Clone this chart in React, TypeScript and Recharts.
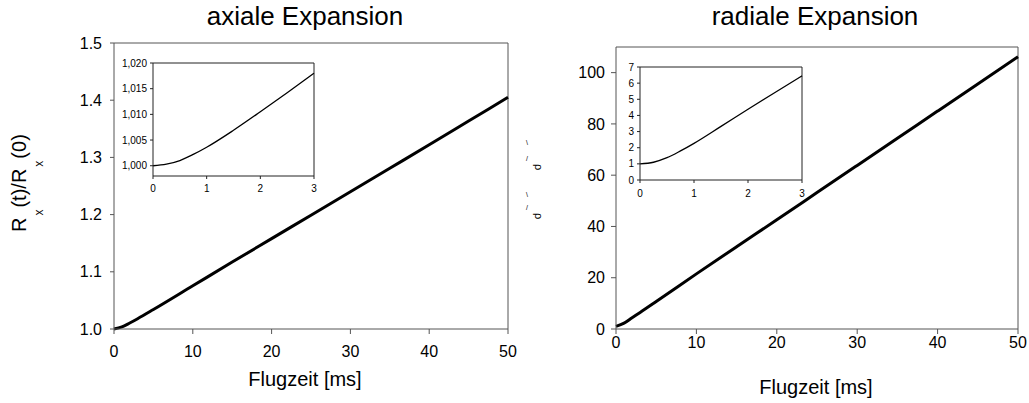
import React from 'react';
import { LineChart, Line, XAxis, YAxis, ReferenceLine } from 'recharts';

// ---- data ----
const axialTime = [0, 1, 2, 3, 5, 10, 15, 20, 25, 30, 35, 40, 45, 50];
const axialRatio = [1.0, 1.0036, 1.0105, 1.018, 1.034, 1.0755, 1.117, 1.158, 1.199, 1.24, 1.281, 1.322, 1.3635, 1.405];

const axialInsetTime = [0, 0.25, 0.5, 0.75, 1, 1.5, 2, 2.5, 3];
const axialInsetRatio = [1.0, 1.0003, 1.001, 1.0022, 1.0036, 1.0069, 1.0105, 1.0142, 1.018];

const radialTime = [0, 1, 2, 3, 5, 10, 15, 20, 25, 30, 35, 40, 45, 50];
const radialRatio = [1, 2.27, 4.38, 6.45, 10.7, 21.5, 32.1, 42.6, 53.2, 63.8, 74.4, 85.0, 95.6, 106.2];

const radialInsetTime = [0, 0.25, 0.5, 0.75, 1, 1.5, 2, 2.5, 3];
const radialInsetRatio = [1.0, 1.1, 1.38, 1.8, 2.27, 3.32, 4.38, 5.42, 6.45];

const mainXTicks = [0, 10, 20, 30, 40, 50];
const axialYTicks = [1.0, 1.1, 1.2, 1.3, 1.4, 1.5];
const radialYTicks = [0, 20, 40, 60, 80, 100];
const insetXTicks = [0, 1, 2, 3];
const axialInsetYTicks = [1.0, 1.005, 1.01, 1.015, 1.02];
const radialInsetYTicks = [0, 1, 2, 3, 4, 5, 6, 7];

const titles = ['axiale Expansion', 'radiale Expansion'];
const xLabel = 'Flugzeit [ms]';

const zip = (xs: number[], ys: number[]) => xs.map((t, i) => ({ t, v: ys[i] }));

const FONT = '"Liberation Sans", Arial, sans-serif';
const AXIS = '#555';

const mainTick = { fill: '#000', fontSize: 16, fontFamily: FONT };
const insetTick = { fill: '#000', fontSize: 10, fontFamily: FONT };

export default function App() {
  const axialData = zip(axialTime, axialRatio);
  const axialInset = zip(axialInsetTime, axialInsetRatio);
  const radialData = zip(radialTime, radialRatio);
  const radialInset = zip(radialInsetTime, radialInsetRatio);

  return (
    <div style={{ position: 'absolute', left: 0, top: 0, width: 1029, height: 403, background: '#fff', fontFamily: FONT, overflow: 'hidden' }}>
      {/* left main */}
      <div style={{ position: 'absolute', left: 0, top: 0 }}>
        <LineChart width={540} height={403} data={axialData} margin={{ top: 43, right: 32, bottom: 44, left: 54 }}>
          <XAxis dataKey="t" type="number" domain={[0, 50]} ticks={mainXTicks} height={30}
            stroke={AXIS} tickSize={5} tickMargin={12} tick={mainTick} />
          <YAxis type="number" domain={[1.0, 1.5]} ticks={axialYTicks} width={60}
            stroke={AXIS} tickSize={4} tickMargin={8} tick={mainTick} tickFormatter={(v: number) => v.toFixed(1)} />
          <ReferenceLine y={1.5} stroke={AXIS} strokeWidth={1} />
          <ReferenceLine x={50} stroke={AXIS} strokeWidth={1} />
          <Line type="monotone" dataKey="v" stroke="#000" strokeWidth={3} dot={false} isAnimationActive={false} />
        </LineChart>
      </div>
      {/* left inset */}
      <div style={{ position: 'absolute', left: 100, top: 50 }}>
        <LineChart width={230} height={160} data={axialInset} margin={{ top: 13, right: 16, bottom: 14, left: 13 }}>
          <XAxis dataKey="t" type="number" domain={[0, 3]} ticks={insetXTicks} height={20}
            stroke="#222" tickSize={3} tickMargin={6} tick={insetTick} />
          <YAxis type="number" domain={[0.998, 1.02]} ticks={axialInsetYTicks} width={40} allowDataOverflow
            stroke="#222" tickSize={3} tickMargin={3} tick={insetTick}
            tickFormatter={(v: number) => v.toFixed(3).replace('.', ',')} />
          <ReferenceLine y={1.02} stroke="#222" />
          <ReferenceLine x={3} stroke="#222" />
          <Line type="monotone" dataKey="v" stroke="#000" strokeWidth={1.3} dot={false} isAnimationActive={false} />
        </LineChart>
      </div>

      {/* right main */}
      <div style={{ position: 'absolute', left: 540, top: 0 }}>
        <LineChart width={489} height={403} data={radialData} margin={{ top: 47, right: 11, bottom: 44, left: 26 }}>
          <XAxis dataKey="t" type="number" domain={[0, 50]} ticks={mainXTicks} height={30}
            stroke={AXIS} tickSize={5} tickMargin={3} tick={mainTick} />
          <YAxis type="number" domain={[0, 110]} ticks={radialYTicks} width={50}
            stroke={AXIS} tickSize={5} tickMargin={6} tick={mainTick} />
          <ReferenceLine y={110} stroke={AXIS} />
          <ReferenceLine x={50} stroke={AXIS} />
          <Line type="monotone" dataKey="v" stroke="#000" strokeWidth={3} dot={false} isAnimationActive={false} />
        </LineChart>
      </div>
      {/* right inset */}
      <div style={{ position: 'absolute', left: 590, top: 50 }}>
        <LineChart width={230} height={165} data={radialInset} margin={{ top: 17, right: 18, bottom: 15, left: 20 }}>
          <XAxis dataKey="t" type="number" domain={[0, 3]} ticks={insetXTicks} height={20}
            stroke="#222" tickSize={3} tickMargin={7} tick={insetTick} />
          <YAxis type="number" domain={[0, 7]} ticks={radialInsetYTicks} width={30}
            stroke="#222" tickSize={3} tickMargin={3} tick={insetTick} />
          <ReferenceLine y={7} stroke="#222" />
          <ReferenceLine x={3} stroke="#222" />
          <Line type="monotone" dataKey="v" stroke="#000" strokeWidth={1.3} dot={false} isAnimationActive={false} />
        </LineChart>
      </div>

      {/* text overlay */}
      <svg width={1029} height={403} style={{ position: 'absolute', left: 0, top: 0, pointerEvents: 'none' }}>
        <g fontFamily={FONT} fill="#000">
          <text x={305} y={25} fontSize={26} textAnchor="middle">{titles[0]}</text>
          <text x={815} y={25} fontSize={26} textAnchor="middle">{titles[1]}</text>
          <text x={305} y={386} fontSize={20} textAnchor="middle">{xLabel}</text>
          <text x={816} y={394} fontSize={20} textAnchor="middle">{xLabel}</text>
          <text transform="translate(26,232) rotate(-90)" fontSize={20}>
            <tspan>R</tspan>
            <tspan dx={2} dy={17} fontSize={12}>x</tspan>
            <tspan dx={2} dy={-17}>(t)/R</tspan>
            <tspan dx={2} dy={17} fontSize={12}>x</tspan>
            <tspan dx={2} dy={-17}>(0)</tspan>
          </text>
          <text x={526} y={145} fontSize={7}>\</text>
          <text x={526} y={161} fontSize={7}>/</text>
          <text transform="translate(535,167) rotate(90)" fontSize={11} textAnchor="middle">ρ</text>
          <text x={526} y={197} fontSize={7}>\</text>
          <text x={526} y={210} fontSize={7}>/</text>
          <text transform="translate(535,216) rotate(90)" fontSize={11} textAnchor="middle">ρ</text>
        </g>
      </svg>
    </div>
  );
}
